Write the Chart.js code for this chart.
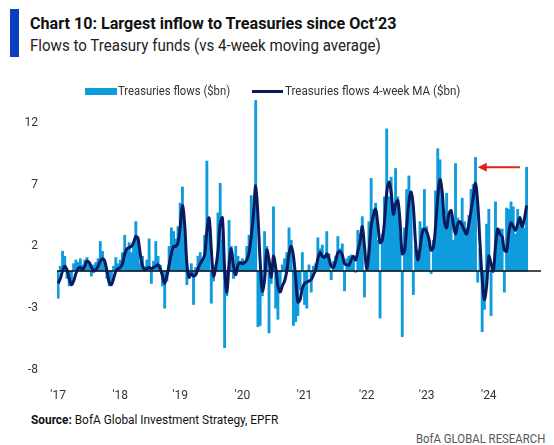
<!DOCTYPE html>
<html>
<head>
<meta charset="utf-8">
<script src="https://cdn.jsdelivr.net/npm/chart.js@4.4.1/dist/chart.umd.min.js"></script>
<style>
  html, body { margin: 0; padding: 0; background: #fff; }
  body { width: 554px; height: 445px; position: relative; overflow: hidden; font-family: Roboto, "Noto Sans", sans-serif; }
  .abs { position: absolute; white-space: nowrap; }
  .fit { display: inline-block; transform-origin: left center; }
  #accent { left: 10px; top: 9px; width: 9px; height: 48px; background: #0a3fc2; }
  #title { left: 30px; top: 14px; font-size: 16.5px; line-height: 20px; font-weight: bold; color: #111; }
  #subtitle { left: 30px; top: 36px; font-size: 16.5px; line-height: 20px; color: #222; }
  .legtxt { top: 84px; font-size: 12px; line-height: 14px; color: #333; }
  #sw1 { left: 85px; top: 88px; width: 32px; height: 7px; background: #0e9cdd; }
  #sw2 { left: 252px; top: 90px; width: 31px; height: 3px; background: #0b1a5e; }
  #source { left: 31px; top: 413px; font-size: 12px; line-height: 14px; color: #111; }
  #brand { left: 416px; top: 432px; font-size: 12px; line-height: 14px; color: #555; }
  #wrap { position: absolute; left: 0; top: 60px; width: 554px; height: 345px; }
</style>
</head>
<body>
<div class="abs" id="accent"></div>
<div class="abs" id="title"><span class="fit" data-w="366">Chart 10: Largest inflow to Treasuries since Oct’23</span></div>
<div class="abs" id="subtitle"><span class="fit" data-w="351">Flows to Treasury funds (vs 4-week moving average)</span></div>

<div id="wrap"><canvas id="chart" width="554" height="345"></canvas></div>

<div class="abs" id="sw1"></div>
<div class="abs legtxt" style="left:118px"><span class="fit" data-w="112">Treasuries flows ($bn)</span></div>
<div class="abs" id="sw2"></div>
<div class="abs legtxt" style="left:285px"><span class="fit" data-w="175">Treasuries flows 4-week MA ($bn)</span></div>

<div class="abs" id="source"><span class="fit" data-w="247"><b>Source:</b> BofA Global Investment Strategy, EPFR</span></div>
<div class="abs" id="brand"><span class="fit" data-w="129">BofA GLOBAL RESEARCH</span></div>

<script>
// weekly-ish flows, Jan 2017 -> Aug 2024 ($bn)
const flows = [
  -2.2, 0.4, 1.6, 1.2, -0.6, -1.2, -0.9, 0.6, 0.9, 0.7,
  1.0, 0.5, 0.9, 1.1, 0.6, -0.4, 0.5, 0.7, 1.0, 2.4,
  1.6, 0.8, -0.6, -1.2, -0.9, 0.4, 1.1, 0.6, 0.9, 1.5,
  2.9, 1.8, 2.3, 1.5, 2.4, 4.0, 2.8, 0.6, 1.2, 0.4,
  0.9, 2.6, -1.0, 0.8, 2.4, 1.2, 0.5, -1.2, -3.0, -0.8,
  2.0, 3.5, 3.2, 2.6, 3.6, 5.5, 6.8, 3.0, -1.1, -0.3,
  0.6, -2.7, 0.3, 1.2, 1.5, 1.0, 2.9, 8.9, 3.5, -2.6,
  -0.8, 0.5, 4.7, 7.1, 2.5, -6.2, -2.0, 4.1, 2.0, -0.6,
  2.0, 1.2, 0.6, 1.0, 0.8, 2.0, 2.9, 6.1, 5.0, 13.8,
  -4.5, -4.4, -2.0, 3.2, 2.0, -5.0, -1.0, 5.2, -3.0, -3.9,
  -1.5, 0.5, 1.0, 1.5, 3.5, 2.5, -4.4, -4.1, -3.6, -1.5,
  1.5, -2.7, -3.0, 0.5, -1.7, 0.4, 0.6, 2.7, 1.8, 2.1,
  1.0, 3.2, 1.4, -0.7, 0.8, 1.2, 2.8, 1.8, 2.2, -1.6,
  1.0, 1.2, 1.3, 1.1, -0.1, 3.3, 3.0, 4.4, -2.1, 0.6,
  4.0, 7.5, 5.0, 5.5, 2.5, -3.8, 3.0, 6.0, 11.5, 6.0,
  7.6, 5.5, 8.3, 6.0, 3.0, -5.3, 3.5, 6.6, 7.7, 6.0,
  -1.9, 2.0, 1.7, 4.0, 3.5, 6.6, 3.6, 2.2, -0.2, 2.5,
  6.5, 9.9, 9.0, 6.3, 5.0, 6.3, 4.6, 4.5, 2.5, 8.7,
  4.3, 4.0, 5.9, 4.0, 3.5, 4.5, 6.6, 7.0, 9.2, -0.9,
  1.8, -4.9, -3.1, 3.8, 5.0, -3.6, 0.5, 5.6, 3.4, 3.4,
  3.4, -1.7, 5.1, 5.0, 5.6, 5.2, 3.0, 5.0, 4.4, 3.8,
  3.5, 8.4
];

// 4-week moving average
const flowsMA = [
  -1.0, -0.6, 0.0, 0.4, 0.1, -0.6, -1.1, -0.8, -0.2, 0.2,
  0.3, 0.1, 0.4, 0.8, 0.7, 0.3, 0.0, 0.1, 0.4, 0.8,
  1.0, 0.8, 0.0, -0.9, -1.1, -0.6, 0.0, 0.2, 0.3, 0.6,
  1.4, 1.8, 1.9, 2.0, 2.3, 2.8, 2.6, 1.4, 0.4, 0.1,
  0.2, 0.3, 0.2, 0.3, 0.4, 0.5, 0.2, -0.4, -1.0, -0.4,
  0.5, 1.4, 2.0, 2.0, 2.3, 3.6, 5.3, 3.8, 0.6, -0.5,
  -0.2, -0.4, -0.3, 0.2, 0.6, 0.9, 1.3, 3.2, 4.3, 1.8,
  -0.4, 0.3, 1.6, 3.8, 4.3, 0.2, -1.7, 0.5, 1.8, 0.4,
  -0.3, 0.5, 0.7, 0.6, 0.7, 0.9, 1.5, 2.8, 4.6, 6.9,
  4.5, 0.8, -1.6, -0.7, 1.7, 0.9, -0.5, 1.2, 0.3, -1.2,
  -1.7, -1.2, -0.8, 0.0, 1.4, 2.0, 1.2, -0.6, -2.5, -2.3,
  -1.4, -1.0, -0.9, -0.8, -0.7, -0.3, 0.1, 1.0, 1.5, 1.2,
  1.1, 1.4, 1.0, 0.4, 0.3, 0.8, 1.5, 1.6, 1.3, 0.6,
  0.5, 0.5, 0.9, 1.2, 0.9, 1.6, 2.4, 3.6, 2.0, 0.2,
  1.5, 3.6, 4.5, 5.0, 3.8, 2.3, 2.5, 4.0, 6.3, 7.2,
  6.4, 4.6, 5.4, 5.7, 4.0, 1.4, 1.6, 3.6, 5.6, 6.4,
  5.2, 2.3, 0.9, 1.8, 3.1, 3.4, 3.2, 2.6, 1.7, 1.9,
  3.6, 6.0, 7.4, 6.4, 4.0, 3.5, 4.6, 4.9, 3.8, 3.0,
  3.8, 4.0, 3.7, 3.3, 3.0, 3.8, 4.9, 6.0, 7.1, 5.5,
  2.3, -0.6, -2.3, -1.2, 1.2, 0.6, 0.0, 2.0, 3.4, 3.0,
  2.8, 1.7, 1.6, 3.1, 3.9, 3.6, 3.3, 3.8, 4.3, 3.6,
  4.2, 5.3
];

const yearLabels = ["'17", "'18", "'19", "'20", "'21", "'22", "'23", "'24"];
const yearStartSlot = [0, 28, 55, 83, 111, 139, 166, 194];
const yTicks = [-8, -3, 2, 7, 12];
const emptySlots = 6; // room on the right after the last week

const nSlots = flows.length + emptySlots;
const labels = new Array(nSlots).fill('');
yearStartSlot.forEach((s, k) => { labels[s] = yearLabels[k]; });
const pad = new Array(emptySlots).fill(null);

// arrow: from latest week back to the Oct'23 week
const arrow = { from: 208, to: 189, level: 8.4 };

const overlay = {
  id: 'overlay',
  afterDatasetDraw(chart, args) {
    if (args.index !== 1) return;
    const { ctx, chartArea, scales } = chart;
    const y0 = scales.y.getPixelForValue(0);
    ctx.save();
    ctx.strokeStyle = '#111';
    ctx.lineWidth = 1.5;
    ctx.beginPath();
    ctx.moveTo(chartArea.left, y0);
    ctx.lineTo(chartArea.right, y0);
    ctx.stroke();
    ctx.restore();
  },
  afterDatasetsDraw(chart) {
    const { ctx, scales } = chart;
    const x1 = scales.x.getPixelForValue(arrow.from);
    const x2 = scales.x.getPixelForValue(arrow.to);
    const yv = scales.y.getPixelForValue(arrow.level);
    ctx.save();
    ctx.strokeStyle = '#e3211c';
    ctx.fillStyle = '#e3211c';
    ctx.lineWidth = 2;
    ctx.beginPath();
    ctx.moveTo(x1, yv);
    ctx.lineTo(x2 + 6, yv);
    ctx.stroke();
    ctx.beginPath();
    ctx.moveTo(x2, yv);
    ctx.lineTo(x2 + 9, yv - 4.5);
    ctx.lineTo(x2 + 9, yv + 4.5);
    ctx.closePath();
    ctx.fill();
    ctx.restore();
  }
};

const tickFont = { family: 'Roboto, "Noto Sans", sans-serif', size: 12 };

new Chart(document.getElementById('chart').getContext('2d'), {
  type: 'bar',
  data: {
    labels: labels,
    datasets: [
      {
        type: 'line',
        label: 'Treasuries flows 4-week MA ($bn)',
        data: flowsMA.concat(pad),
        borderColor: '#0b1a5e',
        borderWidth: 3,
        pointRadius: 0,
        tension: 0.35,
        order: 1
      },
      {
        type: 'bar',
        label: 'Treasuries flows ($bn)',
        data: flows.concat(pad),
        backgroundColor: '#0e9cdd',
        borderWidth: 0,
        barPercentage: 1,
        categoryPercentage: 1,
        order: 2
      }
    ]
  },
  options: {
    responsive: false,
    animation: false,
    layout: { padding: { top: 38, right: 13, left: 0, bottom: 0 } },
    plugins: { legend: { display: false }, tooltip: { enabled: false } },
    scales: {
      x: {
        grid: { display: false },
        border: { display: false },
        ticks: { autoSkip: false, maxRotation: 0, color: '#333', font: tickFont, padding: 11 },
        afterFit(scale) { scale.height = 35; }
      },
      y: {
        min: -8,
        max: 14,
        grid: { display: false },
        border: { display: false },
        ticks: { color: '#333', font: tickFont, padding: 11 },
        afterBuildTicks(scale) { scale.ticks = yTicks.map(v => ({ value: v })); },
        afterFit(scale) { scale.width = 57; }
      }
    }
  },
  plugins: [overlay]
});

function fitTexts() {
  document.querySelectorAll('.fit').forEach(el => {
    const target = parseFloat(el.dataset.w);
    const w = el.offsetWidth;
    if (w > 0) el.style.transform = 'scaleX(' + (target / w) + ')';
  });
}
document.fonts.ready.then(fitTexts);
</script>
</body>
</html>
